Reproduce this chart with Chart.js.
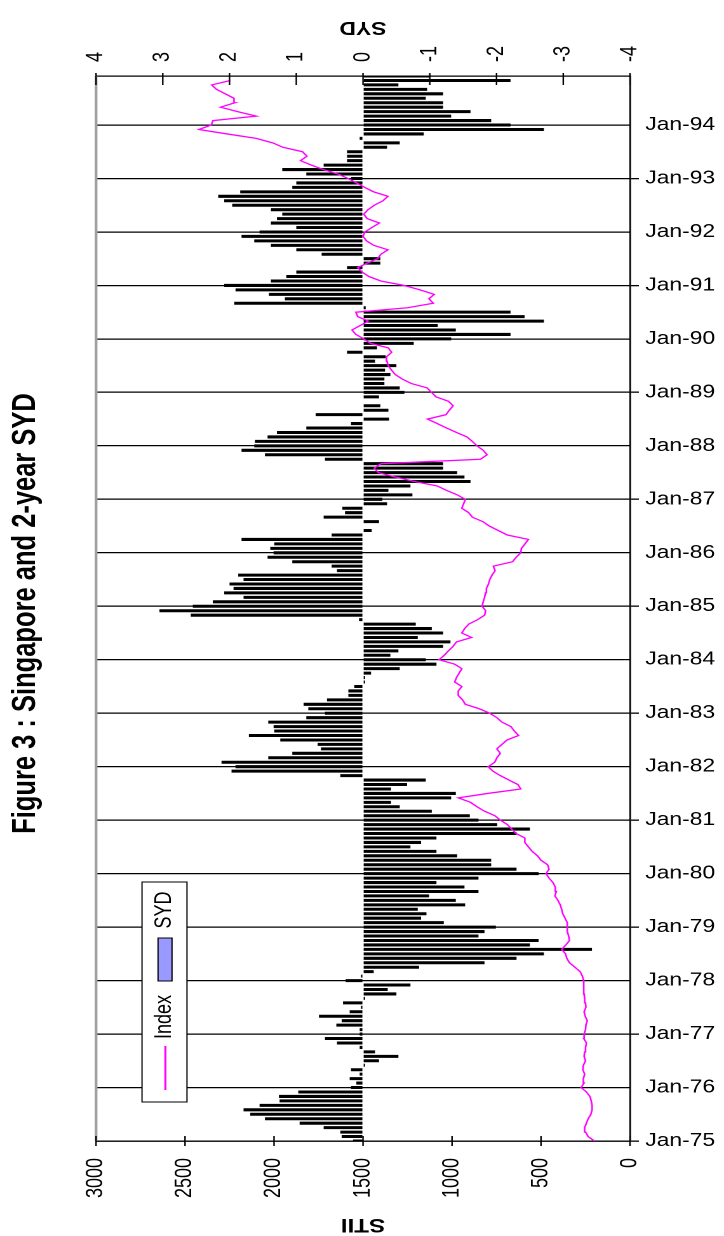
<!DOCTYPE html>
<html><head><meta charset="utf-8">
<script src="https://cdn.jsdelivr.net/npm/chart.js@4/dist/chart.umd.min.js"></script>
<style>
html,body{margin:0;padding:0;background:#fff;overflow:hidden;width:724px;height:1236px;}
#wrap{position:absolute;left:0;top:0;width:570px;height:1236px;transform:scaleX(1.270175);transform-origin:0 0;}
</style></head><body>
<div id="wrap"><canvas id="c"></canvas></div>
<script>
// ---- data ----
const yearLabels = ['75','76','77','78','79','80','81','82','83','84','85','86','87','88','89','90','91','92','93','94'];
const monthNames = ['Jan','Feb','Mar','Apr','May','Jun','Jul','Aug','Sep','Oct','Nov','Dec'];
const stiiTicks = [0,500,1000,1500,2000,2500,3000];
const sydTicks = [-4,-3,-2,-1,0,1,2,3,4];

// SYD (bars), monthly Jan-75 .. Dec-94
const syd = [
  0.15, 0.32, 0.34, 0.59, 0.95, 1.47, 1.69, 1.79, 1.55, 1.25, 1.26, 0.97,
  0.18, 0.10, 0.20, 0.05, 0.18,-0.03,-0.24,-0.53,-0.18, 0.05, 0.39, 0.57,
  0.05, 0.05, 0.40, 0.32, 0.66, 0.20, 0.03, 0.30,-0.03,-0.50,-0.37,-0.71,
  0.26, 0.03,-0.16,-0.84,-1.82,-2.30,-2.71,-3.43,-2.50,-2.63,-1.73,-1.82,
 -1.99,-1.21,-0.87,-0.95,-0.82,-1.53,-1.39,-0.99,-1.73,-1.52,-1.10,-1.73,
 -2.63,-2.30,-1.92,-1.92,-1.41,-1.10,-0.71,-0.87,-1.10,-2.30,-2.50,-2.01,
 -1.73,-1.60,-1.03,-0.55,-0.42,-1.32,-1.39,-0.42,-0.66,-0.94, 0.34, 1.97,
  1.91, 2.12, 1.42, 1.06, 0.63, 0.68, 1.24, 1.71, 1.33, 1.34, 1.42, 0.85,
  0.57, 0.82, 0.89, 0.54, 0.22, 0.22, 0.13,-0.03,-0.03,-0.12,-0.55,-1.10,
 -0.94,-0.41,-0.53,-1.20,-1.31,-0.82,-1.20,-1.03,-0.79, 0.06, 2.58, 3.05,
  2.55, 2.25, 1.79, 2.08, 1.94, 2.00, 1.79, 1.87, 0.39, 0.47, 1.06, 1.43,
  1.34, 1.39, 1.33, 1.82, 0.47,-0.13, 0.00,-0.24, 0.59, 0.27, 0.31,-0.36,
 -0.29,-0.74,-0.38,-0.71,-1.61,-1.52,-1.41,-1.20,-1.20, 0.57, 1.47, 1.82,
  1.63, 1.62, 1.43, 1.29, 0.85, 0.18,-0.39, 0.71,-0.38,-0.26, 0.00,-0.24,
 -0.62,-0.55,-0.32,-0.32,-0.41,-0.33,-0.50,-0.18,-0.34, 0.24,-0.21,-0.76,
 -1.32,-2.21,-1.39,-1.12,-2.71,-2.42,-2.21,-0.04, 1.93, 1.17, 1.41, 1.91,
  2.08, 1.38, 1.15, 1.00, 0.24,-0.26,-0.26, 0.62, 1.00, 1.38, 1.63, 1.82,
  1.55, 1.00, 1.38, 1.29, 1.21, 1.38, 1.96, 2.08, 2.17, 1.84, 1.06, 1.00,
  0.18, 0.85, 1.21, 0.59, 0.24, 0.24, 0.24,-0.36,-0.55, 0.05,-0.91,-2.71,
 -2.21,-1.92,-1.32,-1.61,-1.20,-1.20,-0.94,-1.20,-0.96,-0.53,-2.21,-1.00
];

// STII index (line), monthly Jan-75 .. Dec-94
const stii = [
  200, 235, 250, 255, 245, 235, 220, 213, 213, 218, 225, 245,
  275, 258, 262, 255, 265, 262, 250, 258, 255, 250, 245, 260,
  258, 250, 248, 240, 252, 258, 248, 250, 255, 258, 260, 260,
  260, 268, 280, 310, 340, 355, 362, 384, 360, 340, 345, 352,
  355, 350, 365, 378, 384, 392, 405, 422, 414, 420, 433, 455,
  472, 455, 463, 500, 520, 550, 571, 591, 591, 640, 665, 689,
  728, 760, 817, 860, 896, 965, 800, 614, 630, 680, 729, 770,
  797, 760, 748, 729, 748, 720, 690, 626, 650, 669, 719, 748,
  788, 847, 925, 941, 965, 965, 945, 985, 975, 960, 945, 985,
  1073,1044,1020, 994, 975, 890, 945, 929, 906, 856, 817, 811,
  831, 825, 817, 812, 807, 795, 788, 775, 758, 768, 660, 640,
  614, 610, 590, 571, 690, 740, 790, 827, 886, 906, 945, 935,
  925, 970,1030,1083,1211,1319,1414,1437,1398, 840, 803, 825,
  860, 886, 916, 975,1030,1083,1138,1034,1015, 994,1020,1090,
  1115,1140,1230,1280,1319,1340,1359,1365,1368,1339,1359,1457,
  1496,1540,1562,1516,1470,1530,1540,1250,1105,1130,1100,1180,
  1270,1400,1467,1505,1530,1477,1418,1400,1360,1440,1480,1500,
  1490,1450,1408,1477,1496,1472,1437,1388,1360,1440,1490,1536,
  1585,1640,1723,1790,1851,1815,1840,1950,2008,2100,2264,2422,
  2353,2343,2100,2205,2300,2220,2225,2274,2323,2350,2245,null
];

const categories = [];
yearLabels.forEach(y => monthNames.forEach(m => categories.push(m + '-' + y)));

// ---- drawing ----
const FONT = "'Liberation Sans', Arial, sans-serif";

function txt(ctx, s, x, y, rot, font, align) {
  ctx.save();
  ctx.translate(x, y);
  ctx.rotate(rot);
  ctx.font = font;
  ctx.fillStyle = '#000';
  ctx.textAlign = align || 'center';
  ctx.textBaseline = 'middle';
  ctx.fillText(s, 0, 0);
  ctx.restore();
}
function seg(ctx, x1, y1, x2, y2) {
  ctx.beginPath(); ctx.moveTo(x1, y1); ctx.lineTo(x2, y2); ctx.stroke();
}

const decor = {
  id: 'decor',
  afterDraw(chart) {
    const {ctx, chartArea: a, scales} = chart;
    ctx.save();
    // plot area left border (grey)
    ctx.strokeStyle = '#a0a0a0'; ctx.lineWidth = 2.2;
    seg(ctx, a.left, a.top, a.left, a.bottom);
    // tick marks and tick labels on the value axes
    ctx.strokeStyle = '#000'; ctx.lineWidth = 1.2;
    const tf = '18px ' + FONT;
    sydTicks.forEach(v => {
      const x = scales.x2.getPixelForValue(v);
      seg(ctx, x, a.top - 3, x, a.top + 9);
      txt(ctx, String(v), x, a.top - 14, -Math.PI / 2, tf, 'left');
    });
    stiiTicks.forEach(v => {
      const x = scales.x.getPixelForValue(v);
      seg(ctx, x, a.bottom - 5, x, a.bottom + 5);
      txt(ctx, String(v), x, a.bottom + 17, -Math.PI / 2, tf, 'right');
    });
    // axis titles (upside down)
    const cx = (a.left + a.right) / 2;
    txt(ctx, 'SYD', cx, 27, Math.PI, 'bold 18px ' + FONT);
    txt(ctx, 'STII', cx, 1224, Math.PI, 'bold 19px ' + FONT);
    // chart title (reads bottom to top)
    ctx.save();
    ctx.translate(27.6, 613.5);
    ctx.rotate(-Math.PI / 2);
    ctx.font = 'bold 25.5px ' + FONT;
    ctx.fillStyle = '#000';
    ctx.textAlign = 'center';
    ctx.textBaseline = 'alphabetic';
    ctx.fillText('Figure 3 : Singapore and 2-year SYD', 0, 0);
    ctx.restore();
    // legend
    ctx.fillStyle = '#fff';
    ctx.fillRect(111.8, 882, 35.4, 220);
    ctx.strokeStyle = '#000'; ctx.lineWidth = 1;
    ctx.strokeRect(111.8, 882, 35.4, 220);
    ctx.strokeStyle = '#ff00ff'; ctx.lineWidth = 1.6;
    seg(ctx, 130.2, 1090, 130.2, 1046);
    txt(ctx, 'Index', 129.5, 1017, -Math.PI / 2, '18px ' + FONT);
    ctx.fillStyle = '#9999ff';
    ctx.fillRect(124.4, 938, 11, 43);
    ctx.strokeStyle = '#000'; ctx.lineWidth = 1;
    ctx.strokeRect(124.4, 938, 11, 43);
    txt(ctx, 'SYD', 129.5, 910, -Math.PI / 2, '18px ' + FONT);
    ctx.restore();
  }
};

new Chart(document.getElementById('c'), {
  type: 'bar',
  data: {
    labels: categories,
    datasets: [
      {
        type: 'line', label: 'Index', data: stii, indexAxis: 'y',
        xAxisID: 'x', yAxisID: 'y',
        borderColor: '#ff00ff', borderWidth: 1.3, pointRadius: 0, fill: false, tension: 0
      },
      {
        type: 'bar', label: 'SYD', data: syd, indexAxis: 'y',
        xAxisID: 'x2', yAxisID: 'y',
        backgroundColor: '#000', borderWidth: 0,
        barPercentage: 0.68, categoryPercentage: 1
      }
    ]
  },
  options: {
    indexAxis: 'y',
    responsive: true,
    maintainAspectRatio: false,
    devicePixelRatio: 2,
    animation: false,
    layout: { padding: { left: 75.6, right: 0, top: 0, bottom: 0 } },
    plugins: { legend: { display: false }, title: { display: false }, tooltip: { enabled: false } },
    scales: {
      y: {
        type: 'category', position: 'right', reverse: true, offset: false,
        grid: {
          offset: false, drawOnChartArea: true, drawTicks: true, tickLength: 7,
          lineWidth: 1.3, tickWidth: 1.3,
          color: c => (c.index % 12 === 0 ? '#000' : 'rgba(0,0,0,0)'),
          tickColor: c => (c.index % 24 === 0 ? '#000' : 'rgba(0,0,0,0)')
        },
        border: { display: true, color: '#000', width: 1.3 },
        ticks: {
          autoSkip: false, padding: 5, color: '#000',
          font: { family: FONT, size: 18 },
          callback: (v, i) => (i % 12 === 0 ? categories[i] : '')
        },
        afterFit: s => { s.width = 74; }
      },
      x: {
        type: 'linear', position: 'bottom', min: 0, max: 3000, reverse: true,
        grid: { drawOnChartArea: false, drawTicks: false },
        border: { display: true, color: '#000', width: 1.3 },
        ticks: { display: false, stepSize: 500 },
        afterFit: s => { s.height = 95; }
      },
      x2: {
        type: 'linear', position: 'top', min: -4, max: 4, reverse: true,
        grid: { drawOnChartArea: false, drawTicks: false },
        border: { display: true, color: '#000', width: 1.3 },
        ticks: { display: false, stepSize: 1 },
        afterFit: s => { s.height = 76; }
      }
    }
  },
  plugins: [decor]
});
</script>
</body></html>
